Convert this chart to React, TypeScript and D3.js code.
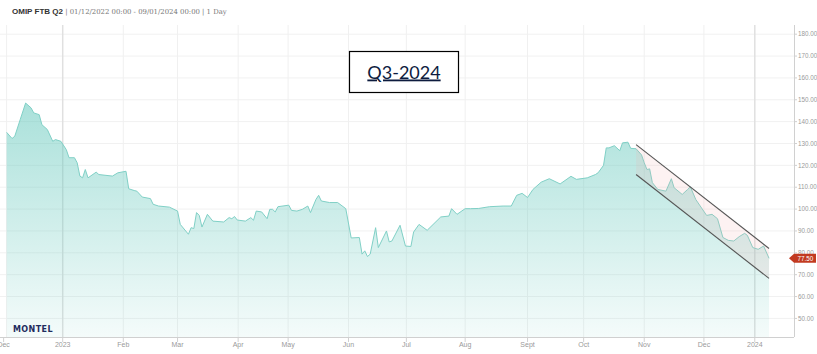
import React from 'react';
import * as d3 from 'd3';

// non-trading days on the ordinal (trading-day) axis
const holidays = ['2022-12-26', '2023-04-07', '2023-04-10', '2023-05-01', '2023-12-25', '2023-12-26', '2024-01-01'];

const priceDates = [
  '2022-12-01', '2022-12-05', '2022-12-06', '2022-12-08', '2022-12-12', '2022-12-14', '2022-12-15', '2022-12-19', '2022-12-20', '2022-12-22', '2022-12-27', '2022-12-28', '2022-12-30',
  '2023-01-03', '2023-01-04', '2023-01-06', '2023-01-09', '2023-01-10', '2023-01-11', '2023-01-12', '2023-01-13', '2023-01-18', '2023-01-19', '2023-01-26', '2023-01-30',
  '2023-02-02', '2023-02-03', '2023-02-07', '2023-02-08', '2023-02-10', '2023-02-15', '2023-02-16', '2023-02-20', '2023-02-24',
  '2023-03-01', '2023-03-02', '2023-03-07', '2023-03-08', '2023-03-09', '2023-03-10', '2023-03-13', '2023-03-14', '2023-03-16', '2023-03-20', '2023-03-24', '2023-03-28', '2023-03-29', '2023-03-30', '2023-03-31',
  '2023-04-05', '2023-04-11', '2023-04-12', '2023-04-13', '2023-04-17', '2023-04-19', '2023-04-20', '2023-04-21', '2023-04-24', '2023-04-25',
  '2023-05-02', '2023-05-03', '2023-05-05', '2023-05-09', '2023-05-11', '2023-05-12', '2023-05-16', '2023-05-17', '2023-05-18', '2023-05-23', '2023-05-26', '2023-05-31',
  '2023-06-02', '2023-06-07', '2023-06-08', '2023-06-09', '2023-06-12', '2023-06-13', '2023-06-15', '2023-06-16', '2023-06-21', '2023-06-22', '2023-06-23', '2023-06-28', '2023-06-30',
  '2023-07-04', '2023-07-05', '2023-07-07', '2023-07-12', '2023-07-19', '2023-07-24', '2023-07-25', '2023-07-27',
  '2023-08-01', '2023-08-03', '2023-08-08', '2023-08-14', '2023-08-21', '2023-08-24', '2023-08-28', '2023-08-30',
  '2023-09-01', '2023-09-05', '2023-09-08', '2023-09-13', '2023-09-19', '2023-09-25', '2023-09-27',
  '2023-10-03', '2023-10-06', '2023-10-09', '2023-10-11', '2023-10-12', '2023-10-13', '2023-10-17', '2023-10-19', '2023-10-20', '2023-10-24', '2023-10-25', '2023-10-27', '2023-10-31',
  '2023-11-01', '2023-11-02', '2023-11-03', '2023-11-06', '2023-11-08', '2023-11-13', '2023-11-15', '2023-11-16', '2023-11-21', '2023-11-23', '2023-11-24', '2023-11-28',
  '2023-12-04', '2023-12-06', '2023-12-08', '2023-12-12', '2023-12-14', '2023-12-18', '2023-12-20', '2023-12-22', '2023-12-27', '2023-12-29',
  '2024-01-03', '2024-01-05', '2024-01-09',
];

const priceValues = [
  135.1, 132.3, 133.3, 140.9, 148.5, 146.3, 144, 143.2, 138.6, 136.4, 131, 131.8, 131,
  127.2, 123.5, 123.5, 121.2, 115.1, 114.3, 118.1, 114.3, 116.9, 115.8, 115.1, 116.6,
  117.3, 109.3, 108.5, 108.2, 105.5, 104.8, 102.2, 101.4, 100.9,
  99.1, 93, 88.5, 91.5, 91.1, 98.4, 97.1, 91.8, 97.6, 94.5, 94.1, 96.1, 95.6, 96.6, 95,
  94.5, 96.1, 94.9, 99.1, 98.7, 95.6, 99.9, 99.9, 98.7, 101.1,
  101.8, 99.4, 99.1, 99.9, 101.4, 98.4, 104.4, 106.3, 103.7, 103, 103, 100.2,
  86.8, 87, 79.4, 80.9, 78.3, 79.4, 91.5, 82.4, 90, 85, 85.4, 92.6, 83.1,
  82.9, 89.5, 93, 90.3, 96.4, 96.8, 100.2, 97.6,
  100.2, 100.2, 100.3, 101.1, 101.4, 101.4, 106.3, 107.2,
  105.3, 109, 112.3, 113.9, 111.5, 115, 113.6,
  114.3, 115.8, 116.6, 120, 128, 128, 129, 126.7, 130.3, 130.6, 127.8, 127.6, 124.8,
  121.2, 118.1, 118.4, 112.1, 109, 108.2, 113.9, 109.8, 106.7, 109, 110.2, 104.4,
  97.1, 97.6, 95.6, 87, 85.7, 85.4, 87.4, 88.9, 88, 82.4,
  81.6, 83.1, 77.5,
];

// trend channel drawn on the chart
const channelDates = ['2023-10-27', '2024-01-09'];
const channelUpper = [129.5, 82];
const channelLower = [115.8, 68.3];

const monthTicks = ['2022-12-01', '2023-01-01', '2023-02-01', '2023-03-01', '2023-04-01', '2023-05-01', '2023-06-01', '2023-07-01', '2023-08-01', '2023-09-01', '2023-10-01', '2023-11-01', '2023-12-01', '2024-01-01'];
const monthLabels = ['Dec', '2023', 'Feb', 'Mar', 'Apr', 'May', 'Jun', 'Jul', 'Aug', 'Sept', 'Oct', 'Nov', 'Dec', '2024'];
const yearTicks = ['2023-01-01', '2024-01-01'];
const yTicks = [50, 60, 70, 80, 90, 100, 110, 120, 130, 140, 150, 160, 170, 180];
const lastPrice = 77.5;

const parse = d3.utcParse('%Y-%m-%d');
const fmt = d3.utcFormat('%Y-%m-%d');

const tradingDays = d3.utcDay
  .range(parse('2022-12-01')!, parse('2024-01-25')!)
  .filter(d => d.getUTCDay() % 6 !== 0 && !holidays.includes(fmt(d)));

// position on the ordinal axis; non-trading dates fall between neighbours
function ordinal(s: string) {
  const date = parse(s)!;
  const i = d3.bisector((d: Date) => d).left(tradingDays, date);
  if (i < tradingDays.length && +tradingDays[i] === +date) return i;
  const prev = tradingDays[i - 1];
  const next = tradingDays[i];
  if (!prev) return 0;
  return i - 1 + (+date - +prev) / (+next - +prev);
}

const width = 817;
const height = 354;
const plot = { left: 0, right: 794, top: 25, bottom: 337 };

export default function App() {
  const x = d3.scaleLinear().domain([-2.44, 290.2]).range([plot.left, plot.right]);
  const y = d3.scaleLinear().domain([41.5, 184.2]).range([plot.bottom, plot.top]);

  const series = priceDates.map((d, i) => ({ i: ordinal(d), v: priceValues[i] }));

  const area = d3.area<{ i: number; v: number }>()
    .x(d => x(d.i)).y0(plot.bottom).y1(d => y(d.v));
  const line = d3.line<{ i: number; v: number }>()
    .x(d => x(d.i)).y(d => y(d.v));

  const c0 = x(ordinal(channelDates[0]));
  const c1 = x(ordinal(channelDates[1]));
  const channel = `M${c0},${y(channelUpper[0])}L${c1},${y(channelUpper[1])}L${c1},${y(channelLower[1])}L${c0},${y(channelLower[0])}Z`;

  const yl = y(lastPrice);
  const tag = `M${plot.right - 5},${yl}L${plot.right},${yl - 4.5}L${width - 1},${yl - 4.5}L${width - 1},${yl + 4.5}L${plot.right},${yl + 4.5}Z`;

  return (
    <div style={{ position: 'absolute', left: 0, top: 0 }}>
      <svg width={width} height={height} style={{ display: 'block', background: '#fff' }}>
        <defs>
          <linearGradient id="areaFill" x1="0" y1="0" x2="0" y2="1">
            <stop offset="0" stopColor="rgb(100,200,188)" stopOpacity={0.55} />
            <stop offset="1" stopColor="rgb(100,200,188)" stopOpacity={0.07} />
          </linearGradient>
        </defs>

        {/* grid */}
        {yTicks.map(t => (
          <line key={t} x1={plot.left} x2={plot.right} y1={y(t)} y2={y(t)} stroke="#f1f1f1" />
        ))}
        {monthTicks.map(t => (
          <line key={t} x1={x(ordinal(t))} x2={x(ordinal(t))} y1={plot.top} y2={plot.bottom}
            stroke={yearTicks.includes(t) ? '#e0e0e0' : '#f0f0f0'} strokeWidth={yearTicks.includes(t) ? 1.5 : 1} />
        ))}

        {/* series */}
        <path d={area(series)!} fill="url(#areaFill)" />
        <path d={line(series)!} fill="none" stroke="#80d0c6" strokeWidth={1} />

        {/* trend channel */}
        <path d={channel} fill="rgba(240,175,175,0.16)" />
        <line x1={c0} y1={y(channelUpper[0])} x2={c1} y2={y(channelUpper[1])} stroke="#555" strokeWidth={1.1} />
        <line x1={c0} y1={y(channelLower[0])} x2={c1} y2={y(channelLower[1])} stroke="#555" strokeWidth={1.1} />

        {/* axes */}
        <line x1={plot.left} x2={plot.right} y1={plot.bottom + 0.5} y2={plot.bottom + 0.5} stroke="#d0d0d0" />
        <line x1={plot.right + 0.5} x2={plot.right + 0.5} y1={plot.top} y2={plot.bottom} stroke="#d0d0d0" />
        {monthTicks.map((t, k) => (
          <g key={t} transform={`translate(${x(ordinal(t)) - (k === 0 ? 3 : 0)},${plot.bottom})`}>
            <line y1={0} y2={5} stroke="#d0d0d0" />
            <text y={10} textAnchor="middle" fontSize={7} fill="#9a9a9a" fontFamily="Liberation Sans, Arial, sans-serif">{monthLabels[k]}</text>
          </g>
        ))}
        {yTicks.map(t => (
          <g key={t} transform={`translate(${plot.right},${y(t)})`}>
            <line x1={0} x2={3} stroke="#d0d0d0" />
            <text x={4} y={2.2} fontSize={6.3} fill="#9a9a9a" fontFamily="Liberation Sans, Arial, sans-serif">{t.toFixed(2)}</text>
          </g>
        ))}

        {/* last price tag */}
        <path d={tag} fill="#c23a20" />
        <text x={plot.right + 3.5} y={yl + 2.3} fontSize={6.3} fill="#fff" fontFamily="Liberation Sans, Arial, sans-serif">{lastPrice.toFixed(2)}</text>

        {/* title */}
        <text x={12} y={14} fontSize={8}>
          <tspan fontWeight="bold" fill="#333" fontFamily="Liberation Sans, Arial, sans-serif">OMIP FTB Q2</tspan>
          <tspan fill="#777" fontFamily="DejaVu Serif, serif" fontSize={6.9}> | 01/12/2022 00:00 - 09/01/2024 00:00 | 1 Day</tspan>
        </text>

        {/* logo */}
        <text x={13} y={332} fontSize={8} fontWeight="bold" letterSpacing={0.4} fill="#1f2c5e" fontFamily="DejaVu Sans, sans-serif">MONTEL</text>

        {/* annotation box */}
        <rect x={349.5} y={51.5} width={109} height={41} fill="#fff" stroke="#000" strokeWidth={1.2} />
        <text x={404} y={78.5} textAnchor="middle" fontSize={18} fill="#0d1b3e" fontFamily="Lato, sans-serif" textDecoration="underline">Q3-2024</text>
      </svg>
    </div>
  );
}
